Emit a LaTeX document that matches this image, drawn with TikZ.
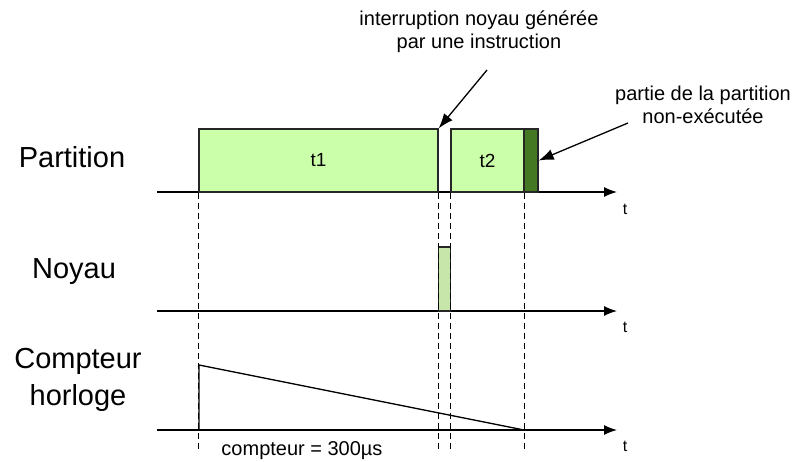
\documentclass[tikz,border=0pt]{standalone}
\usepackage{fontspec}
\setmainfont{Liberation Sans}
\usetikzlibrary{arrows.meta}
\definecolor{slotgreen}{RGB}{204,255,170}
\definecolor{kernelgreen}{RGB}{198,230,170}
\definecolor{restgreen}{RGB}{68,120,34}

\begin{document}
\begin{tikzpicture}[x=1pt,y=-1pt,
  lbl/.style={font=\fontsize{29}{37}\selectfont, align=center, anchor=base, inner sep=0pt},
  note/.style={font=\fontsize{20}{23}\selectfont, align=center, anchor=base, inner sep=0pt},
  tlbl/.style={font=\fontsize{16}{18}\selectfont, anchor=base, inner sep=0pt},
  axis/.style={line width=1.3pt, -{Latex[length=13pt,width=10pt]}},
  slot/.style={draw=black!85, line width=1.3pt, fill=slotgreen, inner sep=0pt,
               font=\fontsize{19}{22}\selectfont},
  guide/.style={line width=1.4pt, dash pattern=on 6pt off 4pt},
  callout/.style={line width=1.3pt, -{Latex[length=15pt,width=11pt]}},
]
\useasboundingbox (0,0) rectangle (793,461);

% row labels (base anchor sits on the last line)
\node[lbl] (partlbl) at (72,167) {Partition};
\node[lbl] (noylbl) at (74,278) {Noyau};
\node[lbl] (cptlbl) at (78,405) {Compteur\\horloge};

% time axes
\coordinate (pa0) at (157,192); \coordinate (pa1) at (617,192);
\coordinate (na0) at (157,311); \coordinate (na1) at (617,311);
\coordinate (ca0) at (157,430); \coordinate (ca1) at (617,430);
\draw[axis] (pa0) -- (pa1);
\draw[axis] (na0) -- (na1);
\draw[axis] (ca0) -- (ca1);
\node[tlbl] (tp) at (625,214) {t};
\node[tlbl] (tn) at (625,332) {t};
\node[tlbl] (tc) at (625,451) {t};

% partition time slots
\node[slot, minimum width=239pt, minimum height=63pt] (t1) at (318.5,160.5) {t1};
\node[slot, minimum width=73pt, minimum height=63pt] (t2) at (487.5,160.5) {t2};
\node[slot, fill=restgreen, minimum width=14pt, minimum height=63pt] (rest) at (531,160.5) {};

% kernel activity
\node[slot, fill=kernelgreen, minimum width=12pt, minimum height=64pt] (kern) at (444.5,279) {};

% clock counter decreasing
\coordinate (c0) at (199,430);
\coordinate (ctop) at (199,365);
\coordinate (cend) at (524,430);
\draw[line width=1.3pt] (c0) -- (ctop) -- (cend);
\node[note] (cnt) at (302,455) {compteur = 300µs};

% vertical guides
\coordinate (gbot) at (0,452);
\draw[guide] (t1.south west) -- (t1.south west |- gbot);
\draw[guide] (t1.south east) -- (t1.south east |- gbot);
\draw[guide] (t2.south west) -- (t2.south west |- gbot);
\draw[guide] (t2.south east) -- (t2.south east |- gbot);

% callouts
\node[note] (intr) at (479,48) {interruption noyau générée\\par une instruction};
\node[note] (unexec) at (703,123) {partie de la partition\\non-exécutée};
\coordinate (intrfoot) at (487,70);
\coordinate (unexecfoot) at (628,123);
\draw[callout] (intrfoot) -- (t1.north east);
\draw[callout] (unexecfoot) -- (rest.east);
\end{tikzpicture}
\end{document}
